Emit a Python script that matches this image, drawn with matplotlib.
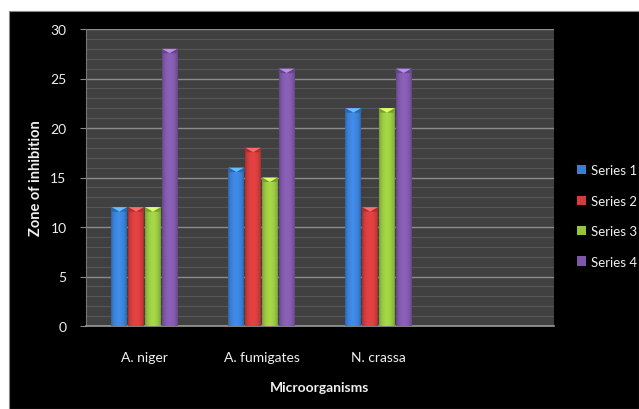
import numpy as np
import matplotlib
matplotlib.use("Agg")
import matplotlib.pyplot as plt
from matplotlib.patches import Rectangle, Polygon
from matplotlib.colors import to_rgb

categories = ["A. niger", "A. fumigates", "N. crassa", ""]
series_names = ["Series 1", "Series 2", "Series 3", "Series 4"]
series1 = [12, 16, 22]
series2 = [12, 18, 12]
series3 = [12, 15, 22]
series4 = [28, 26, 26]
colors = ["#3a7fd5", "#d13c3c", "#97c440", "#7e58a8"]

plt.rcParams['font.family'] = ['Lato', 'DejaVu Sans']

fig = plt.figure(figsize=(6.39, 4.10), dpi=100, facecolor="white")
fig.patches.append(Rectangle((9/639, 0), 1 - 9/639, 1 - 12/410, transform=fig.transFigure,
                             facecolor="black", edgecolor="#888888", linewidth=0.8, zorder=-10))

ax = fig.add_axes([86/639, 1 - 327/410, (554 - 86)/639, (327 - 30)/410])
ax.set_facecolor("#404040")

all_series = [series1, series2, series3, series4]
x = np.arange(len(categories))
slot = 0.143
bw = 0.136
n = len(all_series)

for i, (vals, col) in enumerate(zip(all_series, colors)):
    xs = x[:len(vals)] + (i - (n - 1) / 2) * slot
    bars = ax.bar(xs, vals, width=bw, color=col, zorder=3, label=series_names[i], linewidth=0)
    base = np.array(to_rgb(col))
    t = np.linspace(0, 1, 40)
    f = 0.78 + 0.32 * np.sin(np.pi * t) ** 0.6
    grad = np.clip(base[None, :] * f[:, None], 0, 1)[None, :, :]
    for b in bars:
        x0, w, h = b.get_x(), b.get_width(), b.get_height()
        im = ax.imshow(grad, extent=(x0, x0 + w, 0, h), aspect='auto', zorder=3.5,
                       interpolation='bilinear')
        im.set_clip_path(b)
        d = 0.45
        light = np.clip(base * 1.25 + 0.12, 0, 1)
        ax.add_patch(Polygon([(x0, h), (x0 + w, h), (x0 + w * 0.5, h - d)],
                             closed=True, facecolor=light, edgecolor='none', zorder=4))
        dark = np.clip(base * 0.8, 0, 1)
        ax.add_patch(Polygon([(x0, h), (x0 + w * 0.5, h - d), (x0, h - d)],
                             closed=True, facecolor=dark, edgecolor='none', zorder=4))
        ax.add_patch(Polygon([(x0 + w, h), (x0 + w * 0.5, h - d), (x0 + w, h - d)],
                             closed=True, facecolor=dark, edgecolor='none', zorder=4))

ax.set_xlim(-0.5, len(categories) - 0.5)
ax.set_ylim(0, 30)
ax.set_yticks(np.arange(0, 31, 5))
ax.set_yticks(np.arange(0, 31, 1), minor=True)
ax.yaxis.grid(True, which='major', color="#8c8c8c", linewidth=1.0, zorder=1)
ax.yaxis.grid(True, which='minor', color="#575757", linewidth=0.8, zorder=0.5)
ax.set_axisbelow(True)
ax.set_xticks(x)
ax.set_xticklabels(categories)
ax.tick_params(axis='x', length=0, pad=18, colors="#f0f0f0", labelsize=10)
ax.tick_params(axis='y', which='major', length=4, width=0.8, color="#888888",
               pad=10, labelcolor="#f0f0f0", labelsize=10)
ax.tick_params(axis='y', which='minor', length=0)
for s in ["top", "right"]:
    ax.spines[s].set_visible(False)
ax.spines["left"].set_color("#777777")
ax.spines["bottom"].set_color("#999999")
ax.spines["bottom"].set_linewidth(1.2)

ax.set_ylabel("Zone of inhibition", color="#f0f0f0", fontsize=10.5, fontweight='bold', labelpad=5)
ax.set_xlabel("Microorganisms", color="#f0f0f0", fontsize=10, fontweight='bold', labelpad=13)

leg = fig.legend(loc='center left', bbox_to_anchor=(577/639, 1 - 217/410), frameon=False,
                 handlelength=0.7, handleheight=0.7, handletextpad=0.35, labelspacing=1.4,
                 fontsize=9.5, labelcolor="#f0f0f0", borderaxespad=0, borderpad=0)

fig.savefig("out.png", dpi=100, facecolor=fig.get_facecolor())
